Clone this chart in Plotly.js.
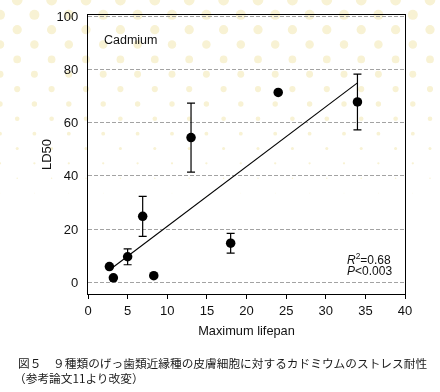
<!DOCTYPE html>
<html>
<head>
<meta charset="utf-8">
<script src="https://cdn.plot.ly/plotly-3.0.1.min.js"></script>
<style>
  html, body { margin: 0; padding: 0; background: #ffffff; }
  #wrap { position: relative; width: 440px; height: 392px; overflow: hidden; }
  #bg { position: absolute; left: 0; top: 0; }
  #chart { position: absolute; left: 0; top: 0; width: 440px; height: 392px; }
</style>
</head>
<body>
<div id="wrap">
  <canvas id="bg" width="440" height="392"></canvas>
  <div id="chart"></div>
</div>
<script>
// ---- data ----
const lifespan = [2.7, 3.2, 5.0, 6.9, 8.3, 13.0, 18.0, 24.0, 34.0];
const ld50     = [5.9, 1.7, 9.6, 24.8, 2.5, 54.4, 14.7, 71.4, 67.8];
const ld50Err  = [null, null, 3.0, 7.5, null, 13.0, 3.7, null, 10.5];
const fitX = [2.7, 34.0];
const fitY = [4.6, 75.0];
const xTicks = [0, 5, 10, 15, 20, 25, 30, 35, 40];
const yTicks = [0, 20, 40, 60, 80, 100];

// ---- decorative dotted background ----
(function () {
  const c = document.getElementById('bg');
  const ctx = c.getContext('2d');
  ctx.fillStyle = '#f8f2d4';
  const dx = 34.4, dy = 14.85;
  for (let k = 0; k < 20; k++) {
    const y = k * dy;
    const d = 10.8 - 0.052 * y;
    if (d < 0.6) break;
    const off = (k % 2 === 0) ? 17.2 : 0;
    for (let x = off - dx; x < 460; x += dx) {
      ctx.beginPath();
      ctx.arc(x, y, d / 2, 0, Math.PI * 2);
      ctx.fill();
    }
  }
})();

const W = 440, H = 392;
const M = {l: 88, r: 35, t: 15, b: 98};
const px2x = p => (p - M.l) / (W - M.l - M.r);
const px2y = p => (H - M.b - p) / (H - M.t - M.b);

const txtColor = '#111111';
const latin = 'Liberation Sans, Arial, Helvetica, sans-serif';
const cjk = '"Noto Sans CJK JP", "Noto Sans CJK SC", sans-serif';

const traces = [
  {
    x: fitX, y: fitY, type: 'scatter', mode: 'lines',
    line: {color: '#000000', width: 1.1},
    hoverinfo: 'skip', showlegend: false
  },
  {
    x: lifespan, y: ld50, type: 'scatter', mode: 'markers',
    marker: {color: '#000000', size: 9.5},
    error_y: {type: 'data', array: ld50Err, visible: true, color: '#000000', thickness: 1.2, width: 4},
    showlegend: false
  }
];

const layout = {
  width: W, height: H,
  margin: M,
  paper_bgcolor: 'rgba(0,0,0,0)',
  plot_bgcolor: 'rgba(0,0,0,0)',
  font: {family: latin, color: txtColor, size: 13},
  showlegend: false,
  xaxis: {
    range: [0, 40], tickvals: xTicks, ticktext: xTicks.map(String),
    showgrid: false, zeroline: false,
    showline: true, linecolor: '#000000', linewidth: 1.2, mirror: true,
    ticks: 'outside', ticklen: 4, tickwidth: 1, tickcolor: '#000000',
    tickfont: {family: latin, size: 13, color: txtColor},
    title: {text: 'Maximum lifepan', font: {family: latin, size: 12.8, color: txtColor}, standoff: 9}
  },
  yaxis: {
    range: [-4.4, 100.5], tickvals: yTicks, ticktext: yTicks.map(String),
    showgrid: true, gridcolor: '#a3a3a3', gridwidth: 1, griddash: '4px,2px',
    zeroline: false,
    showline: true, linecolor: '#000000', linewidth: 1.2, mirror: true,
    ticks: '', ticklabelstandoff: 6,
    tickfont: {family: latin, size: 13, color: txtColor},
    title: {text: 'LD50', font: {family: latin, size: 13, color: txtColor}, standoff: 2}
  },
  annotations: [
    {xref: 'paper', yref: 'paper', x: px2x(102), y: px2y(40), xanchor: 'left', yanchor: 'middle',
     text: 'Cadmium', showarrow: false, font: {family: latin, size: 12.5, color: txtColor}},
    {xref: 'paper', yref: 'paper', x: px2x(345), y: px2y(259), xanchor: 'left', yanchor: 'middle',
     text: '<i>R</i><sup>2</sup>=0.68', showarrow: false, font: {family: latin, size: 12, color: txtColor}},
    {xref: 'paper', yref: 'paper', x: px2x(345), y: px2y(271), xanchor: 'left', yanchor: 'middle',
     text: '<i>P</i>&lt;0.003', showarrow: false, font: {family: latin, size: 12, color: txtColor}},
    {xref: 'paper', yref: 'paper', x: px2x(16), y: px2y(362), xanchor: 'left', yanchor: 'middle',
     text: '図５　９種類のげっ歯類近縁種の皮膚細胞に対するカドミウムのストレス耐性', showarrow: false,
     font: {family: cjk, size: 11.7, color: '#1a1a1a'}},
    {xref: 'paper', yref: 'paper', x: px2x(12), y: px2y(377), xanchor: 'left', yanchor: 'middle',
     text: '（参考論文11より改変）', showarrow: false,
     font: {family: cjk, size: 11.7, color: '#1a1a1a'}}
  ]
};

Plotly.newPlot('chart', traces, layout, {displayModeBar: false, staticPlot: true});
</script>
</body>
</html>
